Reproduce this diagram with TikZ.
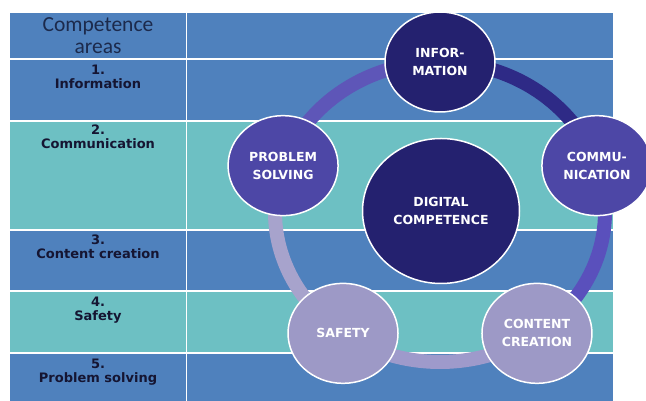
\documentclass[tikz,border=0pt]{standalone}
\usepackage{fontspec}
\setmainfont{DejaVu Sans}
\newfontfamily\headfont{Carlito}
\usetikzlibrary{shapes.geometric,backgrounds}

\definecolor{rowblue}{HTML}{4F81BD}
\definecolor{rowteal}{HTML}{6DC0C3}
\definecolor{headtext}{HTML}{1C2A4C}
\definecolor{areatext}{HTML}{151532}
\definecolor{navy}{HTML}{24216F}
\definecolor{violet}{HTML}{4D47A6}
\definecolor{lilac}{HTML}{9D99C6}

\begin{document}
\begin{tikzpicture}[x=1pt,y=1pt,
  area/.style={anchor=north, align=center, inner sep=0pt, text=areatext,
    font=\bfseries\fontsize{13}{14}\selectfont},
  bubble/.style={ellipse, draw=white, line width=1.5pt, minimum width=110pt,
    minimum height=100pt, inner sep=0pt, align=center, text=white,
    font=\bfseries\fontsize{12.5}{18}\selectfont},
  ring/.style={line width=14pt}]
\useasboundingbox (0,0) rectangle (646,401);

% left column
\node[align=center, inner sep=0pt, text=headtext,
  font=\headfont\fontsize{21.5}{22}\selectfont] (head) at (98,365) {Competence\\areas};
\node[area] (a1) at (98,336) {1.\\Information};
\node[area] (a2) at (98,276) {2.\\Communication};
\node[area] (a3) at (98,166) {3.\\Content creation};
\node[area] (a4) at (98,104) {4.\\Safety};
\node[area] (a5) at (98,42) {5.\\Problem solving};

% the wheel
\begin{scope}[shift={(440,189)}]
\node[bubble, fill=navy] (info) at (90:165 and 150) {INFOR-\\MATION};
\node[bubble, fill=violet] (problem) at (162:165 and 150) {PROBLEM\\SOLVING};
\node[bubble, fill=violet] (comm) at (18:165 and 150) {COMMU-\\NICATION};
\node[bubble, fill=lilac] (safety) at (234:165 and 150) {SAFETY};
\node[bubble, fill=lilac] (content) at (306:165 and 150) {CONTENT\\CREATION};
\node[bubble, fill=navy, minimum width=157pt, minimum height=145pt] (digital)
  at (1,1) {DIGITAL\\COMPETENCE};
\end{scope}

\begin{scope}[on background layer]
\fill[rowblue] (10,388) rectangle (613,343);
\fill[rowblue] (10,341) rectangle (613,281);
\fill[rowteal] (10,279) rectangle (613,172);
\fill[rowblue] (10,170) rectangle (613,111);
\fill[rowteal] (10,109) rectangle (613,49);
\fill[rowblue] (10,47) rectangle (613,0);
\draw[white, line width=1.5pt] (186.5,0) -- (186.5,388);
% ring between the bubbles
\draw[ring, color={rgb,255:red,94;green,86;blue,184}] (info.center)
  arc[start angle=90, end angle=162, x radius=165pt, y radius=150pt];
\draw[ring, color={rgb,255:red,167;green,163;blue,204}] (problem.center)
  arc[start angle=162, end angle=234, x radius=165pt, y radius=150pt];
\draw[ring, color={rgb,255:red,158;green,154;blue,203}] (safety.center)
  arc[start angle=234, end angle=306, x radius=165pt, y radius=150pt];
\draw[ring, color={rgb,255:red,90;green,80;blue,188}] (content.center)
  arc[start angle=306, end angle=378, x radius=165pt, y radius=150pt];
\draw[ring, color={rgb,255:red,46;green,42;blue,134}] (comm.center)
  arc[start angle=18, end angle=90, x radius=165pt, y radius=150pt];
\end{scope}
\end{tikzpicture}
\end{document}
